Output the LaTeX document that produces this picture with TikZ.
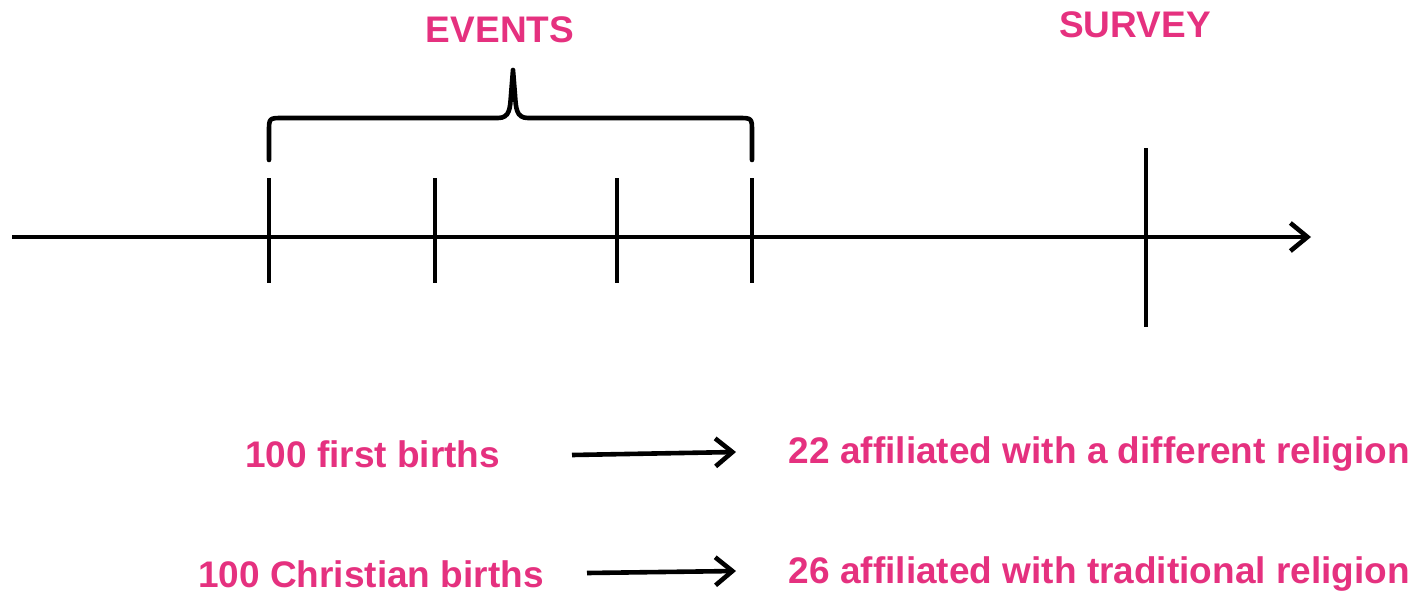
\documentclass[tikz,border=0pt]{standalone}
\usepackage{fontspec}
\setmainfont{Liberation Sans}
\usetikzlibrary{arrows.meta}
\definecolor{pinkt}{HTML}{E5317F}
\begin{document}
\begin{tikzpicture}[x=1pt,y=-1pt,
  lbl/.style={text=pinkt,font=\fontsize{37}{37}\selectfont\bfseries,inner sep=0pt},
  ln/.style={line width=4.6pt,black},
  arr/.style={ln,-{Straight Barb[length=17pt,width=28pt,line width=4.6pt]}},
  tick/.style={ln}]
\useasboundingbox (0,0) rectangle (1417,592);
% axis
\coordinate (s) at (12,237);
\coordinate (e) at (1311,237);
\draw[arr] (s) -- (e);
% ticks
\foreach \n/\x in {t1/269,t2/435,t3/617,t4/752}{
  \coordinate (\n a) at (\x,178);
  \coordinate (\n b) at (\x,283);
  \draw[tick] (\n a) -- (\n b);
}
\coordinate (sva) at (1146,148);
\coordinate (svb) at (1146,327);
\draw[tick] (sva) -- (svb);
% brace
\coordinate (bl) at (269,160);
\coordinate (br) at (752,160);
\coordinate (bm) at (513,70);
\draw[ln,line cap=round,line join=round] (bl) -- (269,132) .. controls (269,118) .. (283,118) -- (498,118)
  .. controls (510,118) and (510,108) .. (511,95) -- (bm) -- (515,95) .. controls (516,108) and (516,118) .. (528,118)
  -- (738,118) .. controls (752,118) .. (752,132) -- (br);
% labels
\node[lbl] (ev) at (500,30) {EVENTS};
\node[lbl] (sv) at (1135,25) {SURVEY};
\node[lbl,anchor=west] (fb) at (245,454) {100 first births};
\node[lbl,anchor=east] (da) at (1410,454) {22 affiliated with a different religion};
\node[lbl,anchor=west] (cb) at (198,574) {100 Christian births};
\node[lbl,anchor=east] (tr) at (1410,574) {26 affiliated with traditional religion};
% arrows
\coordinate (a1s) at (572,455);
\coordinate (a1e) at (736,452);
\coordinate (a2s) at (587,573);
\coordinate (a2e) at (736,571);
\draw[arr] (a1s) -- (a1e);
\draw[arr] (a2s) -- (a2e);
\end{tikzpicture}
\end{document}
